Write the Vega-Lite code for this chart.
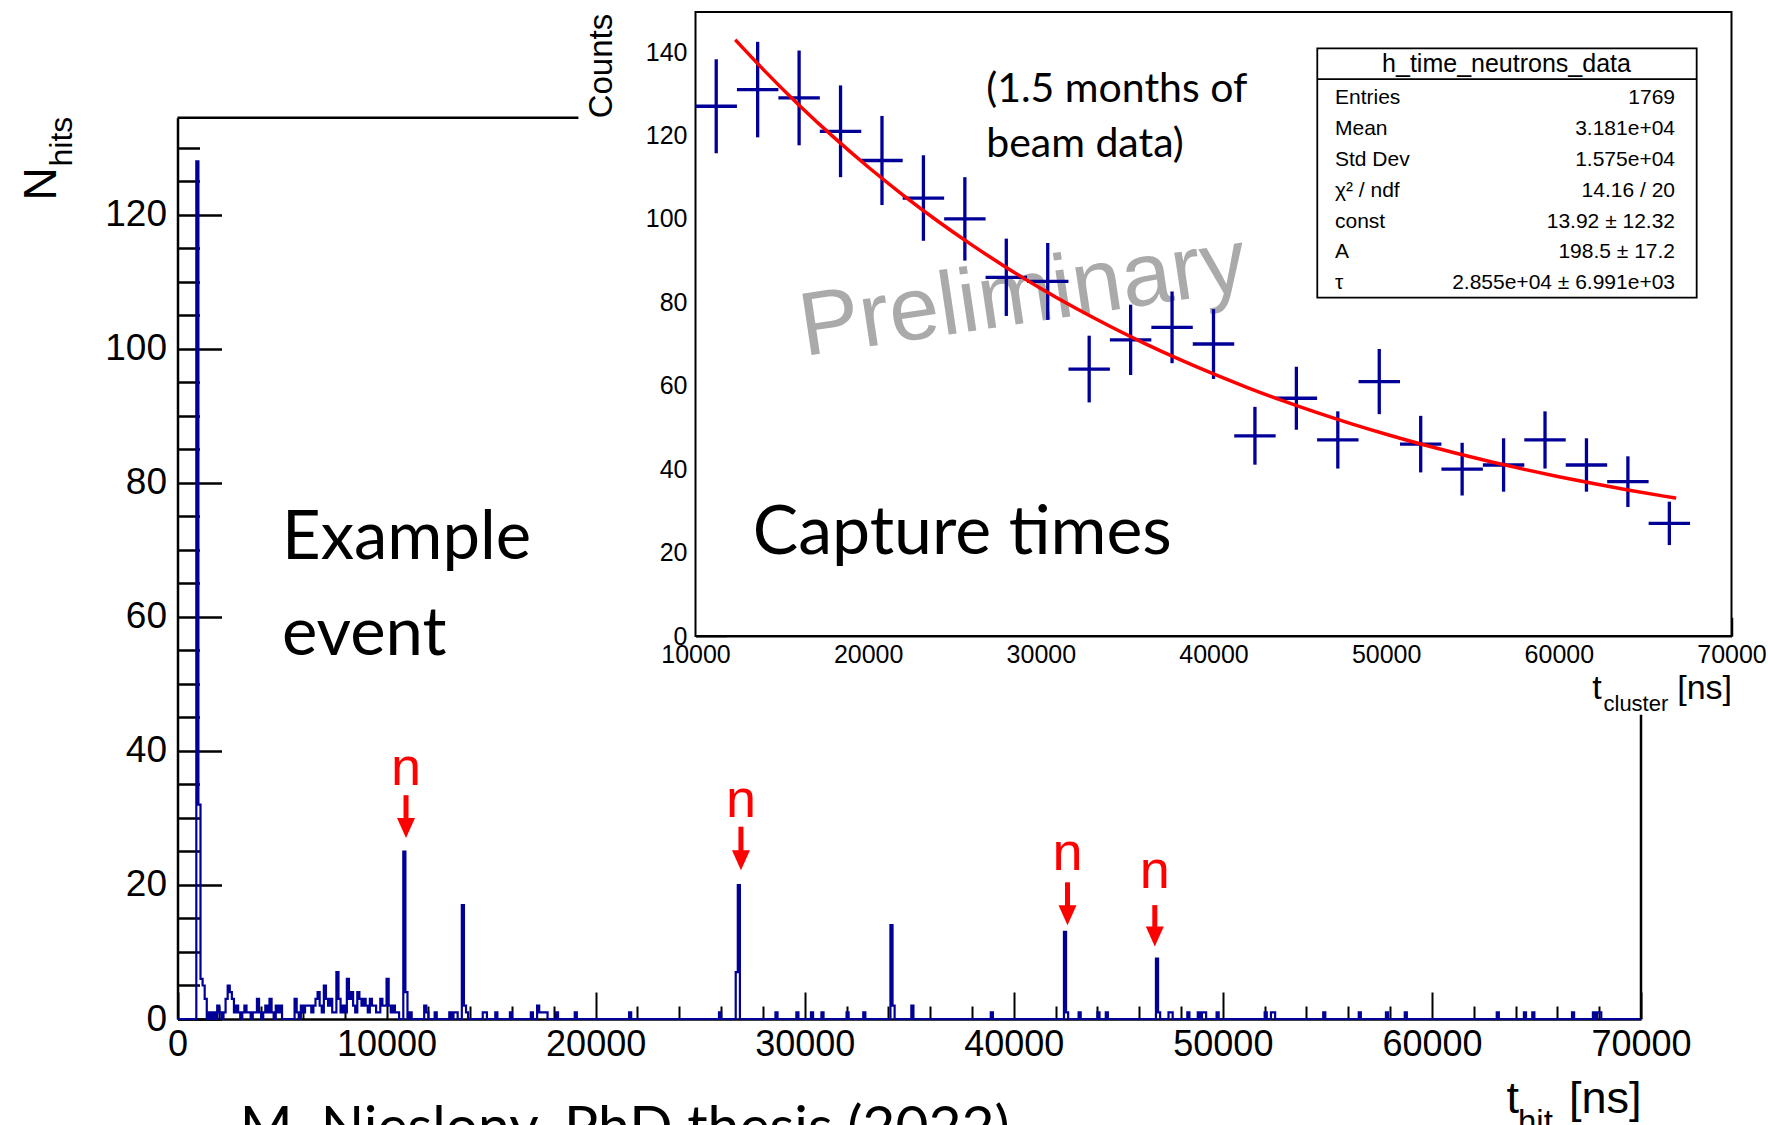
{
"$schema": "https://vega.github.io/schema/vega-lite/v6.json",
"width": 1768, "height": 1125, "autosize": "none", "padding": 0, "background": "white",
"config": {"view": {"stroke": null}, "font": "Liberation Sans",
 "axis": {"domainColor": "black", "tickColor": "black", "labelColor": "black", "titleColor": "black", "labelFont": "Liberation Sans", "titleFont": "Liberation Sans", "titleFontWeight": "normal", "grid": false, "labelFlush": false, "labelOverlap": false, "labelBound": false, "zindex": 1}},
"datasets": {
 "hist": [{"t":0,"n":0},{"t":900,"n":128},{"t":1000,"n":32},{"t":1100,"n":6},{"t":1200,"n":5},{"t":1300,"n":3},{"t":1400,"n":0},{"t":1500,"n":1},{"t":1600,"n":0},{"t":1700,"n":1},{"t":1800,"n":0},{"t":1900,"n":2},{"t":2000,"n":1},{"t":2100,"n":0},{"t":2200,"n":1},{"t":2300,"n":3},{"t":2400,"n":5},{"t":2500,"n":4},{"t":2600,"n":3},{"t":2700,"n":1},{"t":2800,"n":2},{"t":2900,"n":1},{"t":3000,"n":0},{"t":3100,"n":1},{"t":3200,"n":2},{"t":3300,"n":1},{"t":3500,"n":0},{"t":3600,"n":1},{"t":3800,"n":3},{"t":3900,"n":1},{"t":4000,"n":0},{"t":4100,"n":1},{"t":4200,"n":2},{"t":4300,"n":1},{"t":4400,"n":3},{"t":4500,"n":1},{"t":4600,"n":0},{"t":4700,"n":2},{"t":4800,"n":1},{"t":4900,"n":2},{"t":5000,"n":0},{"t":5600,"n":3},{"t":5700,"n":1},{"t":5800,"n":0},{"t":5900,"n":2},{"t":6000,"n":1},{"t":6100,"n":2},{"t":6400,"n":1},{"t":6500,"n":2},{"t":6600,"n":3},{"t":6700,"n":4},{"t":6800,"n":2},{"t":6900,"n":1},{"t":7000,"n":5},{"t":7100,"n":3},{"t":7200,"n":2},{"t":7300,"n":3},{"t":7400,"n":1},{"t":7600,"n":7},{"t":7700,"n":3},{"t":7800,"n":1},{"t":7900,"n":2},{"t":8000,"n":1},{"t":8100,"n":6},{"t":8200,"n":3},{"t":8300,"n":4},{"t":8400,"n":2},{"t":8500,"n":1},{"t":8600,"n":4},{"t":8700,"n":3},{"t":8800,"n":2},{"t":8900,"n":3},{"t":9000,"n":2},{"t":9100,"n":1},{"t":9200,"n":3},{"t":9300,"n":2},{"t":9500,"n":1},{"t":9700,"n":3},{"t":9800,"n":2},{"t":10000,"n":6},{"t":10100,"n":2},{"t":10200,"n":1},{"t":10300,"n":2},{"t":10400,"n":1},{"t":10600,"n":0},{"t":10800,"n":25},{"t":10900,"n":4},{"t":11000,"n":0},{"t":11100,"n":1},{"t":11200,"n":0},{"t":11800,"n":2},{"t":11900,"n":1},{"t":12000,"n":0},{"t":12300,"n":1},{"t":12400,"n":0},{"t":13000,"n":1},{"t":13100,"n":0},{"t":13200,"n":1},{"t":13400,"n":0},{"t":13600,"n":17},{"t":13700,"n":2},{"t":13800,"n":1},{"t":13900,"n":0},{"t":14600,"n":1},{"t":14800,"n":0},{"t":15200,"n":1},{"t":15300,"n":0},{"t":15900,"n":1},{"t":16000,"n":0},{"t":16900,"n":1},{"t":17000,"n":0},{"t":17200,"n":2},{"t":17300,"n":1},{"t":17700,"n":0},{"t":18100,"n":1},{"t":18200,"n":0},{"t":19000,"n":1},{"t":19100,"n":0},{"t":21600,"n":1},{"t":21700,"n":0},{"t":25900,"n":1},{"t":26000,"n":0},{"t":26700,"n":7},{"t":26800,"n":20},{"t":26900,"n":0},{"t":28600,"n":1},{"t":28700,"n":0},{"t":29600,"n":1},{"t":29700,"n":0},{"t":30300,"n":1},{"t":30400,"n":0},{"t":30800,"n":1},{"t":30900,"n":0},{"t":32000,"n":1},{"t":32100,"n":0},{"t":32800,"n":1},{"t":32900,"n":0},{"t":34100,"n":14},{"t":34200,"n":2},{"t":34300,"n":0},{"t":35100,"n":2},{"t":35200,"n":0},{"t":38900,"n":1},{"t":39000,"n":0},{"t":42400,"n":13},{"t":42500,"n":1},{"t":42600,"n":0},{"t":43100,"n":1},{"t":43200,"n":0},{"t":44000,"n":1},{"t":44100,"n":0},{"t":44400,"n":1},{"t":44500,"n":0},{"t":46800,"n":9},{"t":46900,"n":1},{"t":47000,"n":0},{"t":47400,"n":1},{"t":47600,"n":0},{"t":48300,"n":1},{"t":48400,"n":0},{"t":48800,"n":1},{"t":48900,"n":0},{"t":49000,"n":1},{"t":49200,"n":0},{"t":49700,"n":1},{"t":49800,"n":0},{"t":52000,"n":1},{"t":52100,"n":0},{"t":52300,"n":1},{"t":52500,"n":0},{"t":54800,"n":1},{"t":54900,"n":0},{"t":56500,"n":1},{"t":56600,"n":0},{"t":57800,"n":1},{"t":57900,"n":0},{"t":58700,"n":1},{"t":58800,"n":0},{"t":63100,"n":1},{"t":63200,"n":0},{"t":64400,"n":1},{"t":64500,"n":0},{"t":64800,"n":1},{"t":64900,"n":0},{"t":66700,"n":1},{"t":66800,"n":0},{"t":67700,"n":1},{"t":67800,"n":0},{"t":67900,"n":1},{"t":68100,"n":0},{"t":70000,"n":0}],
 "capture": [{"t":11200,"c":127,"lo":115.73,"hi":138.27,"tlo":10000,"thi":12400},{"t":13600,"c":131,"lo":119.55,"hi":142.45,"tlo":12400,"thi":14800},{"t":16000,"c":129,"lo":117.64,"hi":140.36,"tlo":14800,"thi":17200},{"t":18400,"c":121,"lo":110,"hi":132,"tlo":17200,"thi":19600},{"t":20800,"c":114,"lo":103.32,"hi":124.68,"tlo":19600,"thi":22000},{"t":23200,"c":105,"lo":94.75,"hi":115.25,"tlo":22000,"thi":24400},{"t":25600,"c":100,"lo":90,"hi":110,"tlo":24400,"thi":26800},{"t":28000,"c":86,"lo":76.73,"hi":95.27,"tlo":26800,"thi":29200},{"t":30400,"c":85,"lo":75.78,"hi":94.22,"tlo":29200,"thi":31600},{"t":32800,"c":64,"lo":56,"hi":72,"tlo":31600,"thi":34000},{"t":35200,"c":71,"lo":62.57,"hi":79.43,"tlo":34000,"thi":36400},{"t":37600,"c":74,"lo":65.4,"hi":82.6,"tlo":36400,"thi":38800},{"t":40000,"c":70,"lo":61.63,"hi":78.37,"tlo":38800,"thi":41200},{"t":42400,"c":48,"lo":41.07,"hi":54.93,"tlo":41200,"thi":43600},{"t":44800,"c":57,"lo":49.45,"hi":64.55,"tlo":43600,"thi":46000},{"t":47200,"c":47,"lo":40.14,"hi":53.86,"tlo":46000,"thi":48400},{"t":49600,"c":61,"lo":53.19,"hi":68.81,"tlo":48400,"thi":50800},{"t":52000,"c":46,"lo":39.22,"hi":52.78,"tlo":50800,"thi":53200},{"t":54400,"c":40,"lo":33.68,"hi":46.32,"tlo":53200,"thi":55600},{"t":56800,"c":41,"lo":34.6,"hi":47.4,"tlo":55600,"thi":58000},{"t":59200,"c":47,"lo":40.14,"hi":53.86,"tlo":58000,"thi":60400},{"t":61600,"c":41,"lo":34.6,"hi":47.4,"tlo":60400,"thi":62800},{"t":64000,"c":37,"lo":30.92,"hi":43.08,"tlo":62800,"thi":65200},{"t":66400,"c":27,"lo":21.8,"hi":32.2,"tlo":65200,"thi":67600}],
 "fit": [{"t":12300,"f":142.94},{"t":14000,"f":135.49},{"t":16000,"f":127.26},{"t":18000,"f":119.59},{"t":20000,"f":112.44},{"t":22000,"f":105.78},{"t":24000,"f":99.56},{"t":26000,"f":93.77},{"t":28000,"f":88.37},{"t":30000,"f":83.33},{"t":32000,"f":78.63},{"t":34000,"f":74.26},{"t":36000,"f":70.17},{"t":38000,"f":66.37},{"t":40000,"f":62.82},{"t":42000,"f":59.51},{"t":44000,"f":56.43},{"t":46000,"f":53.55},{"t":48000,"f":50.87},{"t":50000,"f":48.37},{"t":52000,"f":46.04},{"t":54000,"f":43.87},{"t":56000,"f":41.84},{"t":58000,"f":39.95},{"t":60000,"f":38.19},{"t":62000,"f":36.55},{"t":64000,"f":35.02},{"t":66000,"f":33.59},{"t":66800,"f":33.05}],
 "arrows": [{"t":10930,"vt":34.9,"vs":33.4,"vh":28.5},{"t":26950,"vt":30.1,"vs":28.7,"vh":23.7},{"t":42570,"vt":22.2,"vs":20.4,"vh":15.5},{"t":46745,"vt":19.6,"vs":17.0,"vh":12.3}],
 "stats": [{"row":0,"label":"Entries","value":"1769"},{"row":1,"label":"Mean","value":"3.181e+04"},{"row":2,"label":"Std Dev","value":"1.575e+04"},{"row":3,"label":"χ² / ndf","value":"14.16 / 20"},{"row":4,"label":"const","value":"13.92 ± 12.32"},{"row":5,"label":"A","value":"198.5 ± 17.2"},{"row":6,"label":"τ","value":"2.855e+04  ± 6.991e+03"}]
},
"layer": [
 {"data": {"name": "hist"},
  "mark": {"type": "line", "interpolate": "step-after", "color": "#000099", "strokeWidth": 2.2},
  "encoding": {
   "x": {"field": "t", "type": "quantitative", "scale": {"domain": [0, 70000], "range": [177.5, 1641], "nice": false, "zero": false},
     "axis": {"orient": "bottom", "offset": -106, "values": [0,10000,20000,30000,40000,50000,60000,70000], "format": "d", "tickSize": -27, "tickWidth": 2, "domainWidth": 2.5, "labelFontSize": 36, "labelPadding": 35, "labelBaseline": "top", "labelAlign": "center",
       "title": "t\u00a0\u00a0\u00a0\u00a0[ns]", "titleX": 1641, "titleY": 93, "titleAlign": "right", "titleBaseline": "alphabetic", "titleAngle": 0, "titleFontSize": 45}},
   "y": {"field": "n", "type": "quantitative", "scale": {"domain": [0, 134.5], "range": [1019, 117.8], "nice": false, "zero": false},
     "axis": {"orient": "left", "offset": -177.5, "values": [0,20,40,60,80,100,120], "tickSize": -44, "tickWidth": 2.5, "domainWidth": 2.5, "labelFontSize": 37, "labelPadding": 55, "labelAlign": "right", "labelBaseline": "middle",
       "title": "N", "titleAngle": 270, "titleX": -122, "titleY": 200, "titleAlign": "left", "titleBaseline": "alphabetic", "titleFontSize": 46}}
  }},
 {"data": {"values": [{"a":0,"a2":19176,"b":134.5,"b2":134.5},{"a":70000,"a2":70000,"b":0,"b2":45.4}]},
  "mark": {"type": "rule", "color": "black", "strokeWidth": 2.5},
  "encoding": {
   "x": {"field": "a", "type": "quantitative", "scale": {"domain": [0, 70000], "range": [177.5, 1641], "nice": false, "zero": false},
     "axis": {"orient": "bottom", "offset": -106, "values": [2000,4000,6000,8000,12000,14000,16000,18000,22000,24000,26000,28000,32000,34000,36000,38000,42000,44000,46000,48000,52000,54000,56000,58000,62000,64000,66000,68000], "tickSize": -13, "tickWidth": 2, "labels": false, "domain": false,
       "title": "hit", "titleX": 1517.5, "titleY": 113, "titleAlign": "left", "titleBaseline": "alphabetic", "titleAngle": 0, "titleFontSize": 33}},
   "x2": {"field": "a2"},
   "y": {"field": "b", "type": "quantitative", "scale": {"domain": [0, 134.5], "range": [1019, 117.8], "nice": false, "zero": false},
     "axis": {"orient": "left", "offset": -177.5, "values": [5,10,15,25,30,35,45,50,55,65,70,75,85,90,95,105,110,115,125,130], "tickSize": -22, "tickWidth": 2.5, "labels": false, "domain": false,
       "title": "hits", "titleAngle": 270, "titleX": -106.5, "titleY": 166, "titleAlign": "left", "titleBaseline": "alphabetic", "titleFontSize": 32}},
   "y2": {"field": "b2"}
  }},
 {"data": {"values": [{"t": 4997, "v": 68.6, "s": "Example\nevent"}]},
  "mark": {"type": "text", "font": "Lato", "fontSize": 67, "align": "left", "baseline": "alphabetic", "lineBreak": "\n", "lineHeight": 96, "color": "black"},
  "encoding": {
   "x": {"field": "t", "type": "quantitative", "scale": {"domain": [0, 70000], "range": [177.5, 1641], "nice": false, "zero": false}, "axis": null},
   "y": {"field": "v", "type": "quantitative", "scale": {"domain": [0, 134.5], "range": [1019, 117.8], "nice": false, "zero": false}, "axis": null},
   "text": {"field": "s"}}},
 {"data": {"values": [{"t": 2978, "v": -18.9, "s": "M. Nieslony, PhD thesis (2022)"}]},
  "mark": {"type": "text", "font": "Lato", "fontSize": 57, "align": "left", "baseline": "alphabetic", "color": "black"},
  "encoding": {
   "x": {"field": "t", "type": "quantitative", "scale": {"domain": [0, 70000], "range": [177.5, 1641], "nice": false, "zero": false}, "axis": null},
   "y": {"field": "v", "type": "quantitative", "scale": {"domain": [0, 134.5], "range": [1019, 117.8], "nice": false, "zero": false}, "axis": null},
   "text": {"field": "s"}}},
 {"data": {"name": "arrows"},
  "mark": {"type": "text", "fontSize": 54, "align": "center", "baseline": "alphabetic", "color": "#ff0000", "text": "n"},
  "encoding": {
   "x": {"field": "t", "type": "quantitative", "scale": {"domain": [0, 70000], "range": [177.5, 1641], "nice": false, "zero": false}, "axis": null},
   "y": {"field": "vt", "type": "quantitative", "scale": {"domain": [0, 134.5], "range": [1019, 117.8], "nice": false, "zero": false}, "axis": null}}},
 {"data": {"name": "arrows"},
  "mark": {"type": "rule", "color": "#ff0000", "strokeWidth": 5},
  "encoding": {
   "x": {"field": "t", "type": "quantitative", "scale": {"domain": [0, 70000], "range": [177.5, 1641], "nice": false, "zero": false}, "axis": null},
   "y": {"field": "vs", "type": "quantitative", "scale": {"domain": [0, 134.5], "range": [1019, 117.8], "nice": false, "zero": false}, "axis": null},
   "y2": {"field": "vh"}}},
 {"data": {"name": "arrows"},
  "mark": {"type": "point", "shape": "M-0.9,-1L0.9,-1L0,1Z", "size": 400, "filled": true, "color": "#ff0000", "opacity": 1, "strokeWidth": 0},
  "encoding": {
   "x": {"field": "t", "type": "quantitative", "scale": {"domain": [0, 70000], "range": [177.5, 1641], "nice": false, "zero": false}, "axis": null},
   "y": {"field": "vh", "type": "quantitative", "scale": {"domain": [0, 134.5], "range": [1019, 117.8], "nice": false, "zero": false}, "axis": null}}},
 {"data": {"values": [{"a":10000,"a2":70000,"b":0,"b2":149.6}]},
  "mark": {"type": "rect", "fill": "white", "stroke": "black", "strokeWidth": 2},
  "encoding": {
   "x": {"field": "a", "type": "quantitative", "scale": {"domain": [10000, 70000], "range": [695.5, 1731.5], "nice": false, "zero": false},
     "axis": {"orient": "bottom", "offset": -489, "values": [12000,14000,16000,18000,22000,24000,26000,28000,32000,34000,36000,38000,42000,44000,46000,48000,52000,54000,56000,58000,62000,64000,66000,68000], "tickSize": -9.3, "tickWidth": 1.5, "labels": false, "domain": false,
       "title": "cluster", "titleX": 1603, "titleY": 74, "titleAlign": "left", "titleBaseline": "alphabetic", "titleAngle": 0, "titleFontSize": 22}},
   "x2": {"field": "a2"},
   "y": {"field": "b", "type": "quantitative", "scale": {"domain": [0, 149.6], "range": [636, 12], "nice": false, "zero": false},
     "axis": {"orient": "left", "offset": -695.5, "values": [5,10,15,25,30,35,45,50,55,65,70,75,85,90,95,105,110,115,125,130,135,145], "tickSize": -15.6, "tickWidth": 1.5, "labels": false, "domain": false, "title": null}},
   "y2": {"field": "b2"}
  }},
 {"data": {"values": [{"t": 16300, "v": 67.1, "s": "Preliminary"}]},
  "mark": {"type": "text", "fontSize": 90, "align": "left", "baseline": "alphabetic", "angle": -8.5, "color": "#aaaaaa"},
  "encoding": {
   "x": {"field": "t", "type": "quantitative", "scale": {"domain": [10000, 70000], "range": [695.5, 1731.5], "nice": false, "zero": false}, "axis": null},
   "y": {"field": "v", "type": "quantitative", "scale": {"domain": [0, 149.6], "range": [636, 12], "nice": false, "zero": false}, "axis": null},
   "text": {"field": "s"}}},
 {"data": {"name": "capture"},
  "mark": {"type": "rule", "color": "#000099", "strokeWidth": 3.3},
  "encoding": {
   "x": {"field": "t", "type": "quantitative", "scale": {"domain": [10000, 70000], "range": [695.5, 1731.5], "nice": false, "zero": false},
     "axis": {"orient": "bottom", "offset": -489, "values": [10000,20000,30000,40000,50000,60000,70000], "format": "d", "tickSize": -18.7, "tickWidth": 1.5, "domainWidth": 2, "labelFontSize": 25, "labelPadding": 25.5, "labelBaseline": "top", "labelAlign": "center",
       "title": "t\u00a0\u00a0\u00a0\u00a0\u00a0\u00a0\u00a0\u00a0[ns]", "titleX": 1731.5, "titleY": 62, "titleAlign": "right", "titleBaseline": "alphabetic", "titleAngle": 0, "titleFontSize": 34}},
   "y": {"field": "lo", "type": "quantitative", "scale": {"domain": [0, 149.6], "range": [636, 12], "nice": false, "zero": false},
     "axis": {"orient": "left", "offset": -695.5, "values": [0,20,40,60,80,100,120,140], "tickSize": -31, "tickWidth": 1.5, "domainWidth": 2, "labelFontSize": 25, "labelPadding": 39.5, "labelAlign": "right", "labelBaseline": "middle",
       "title": "Counts", "titleAngle": 270, "titleX": -84.3, "titleY": 13.3, "titleAlign": "right", "titleBaseline": "alphabetic", "titleFontSize": 33}},
   "y2": {"field": "hi"}}},
 {"data": {"name": "capture"},
  "mark": {"type": "rule", "color": "#000099", "strokeWidth": 3.3},
  "encoding": {
   "x": {"field": "tlo", "type": "quantitative", "scale": {"domain": [10000, 70000], "range": [695.5, 1731.5], "nice": false, "zero": false}, "axis": null},
   "x2": {"field": "thi"},
   "y": {"field": "c", "type": "quantitative", "scale": {"domain": [0, 149.6], "range": [636, 12], "nice": false, "zero": false}, "axis": null}}},
 {"data": {"name": "fit"},
  "mark": {"type": "line", "interpolate": "monotone", "color": "#ff0000", "strokeWidth": 3.5},
  "encoding": {
   "x": {"field": "t", "type": "quantitative", "scale": {"domain": [10000, 70000], "range": [695.5, 1731.5], "nice": false, "zero": false}, "axis": null},
   "y": {"field": "f", "type": "quantitative", "scale": {"domain": [0, 149.6], "range": [636, 12], "nice": false, "zero": false}, "axis": null}}},
 {"data": {"values": [{"t": 26835, "v": 128.1, "s": "(1.5 months of\nbeam data)"}]},
  "mark": {"type": "text", "font": "Lato", "fontSize": 41, "align": "left", "baseline": "alphabetic", "lineBreak": "\n", "lineHeight": 55, "color": "black"},
  "encoding": {
   "x": {"field": "t", "type": "quantitative", "scale": {"domain": [10000, 70000], "range": [695.5, 1731.5], "nice": false, "zero": false}, "axis": null},
   "y": {"field": "v", "type": "quantitative", "scale": {"domain": [0, 149.6], "range": [636, 12], "nice": false, "zero": false}, "axis": null},
   "text": {"field": "s"}}},
 {"data": {"values": [{"t": 13318, "v": 19.66, "s": "Capture times"}]},
  "mark": {"type": "text", "font": "Lato", "fontSize": 68, "align": "left", "baseline": "alphabetic", "color": "black"},
  "encoding": {
   "x": {"field": "t", "type": "quantitative", "scale": {"domain": [10000, 70000], "range": [695.5, 1731.5], "nice": false, "zero": false}, "axis": null},
   "y": {"field": "v", "type": "quantitative", "scale": {"domain": [0, 149.6], "range": [636, 12], "nice": false, "zero": false}, "axis": null},
   "text": {"field": "s"}}},
 {"data": {"values": [{"a":46011,"a2":67983,"b":81.1,"b2":140.9}]},
  "mark": {"type": "rect", "fill": "white", "stroke": "black", "strokeWidth": 1.8},
  "encoding": {
   "x": {"field": "a", "type": "quantitative", "scale": {"domain": [10000, 70000], "range": [695.5, 1731.5], "nice": false, "zero": false}, "axis": null},
   "x2": {"field": "a2"},
   "y": {"field": "b", "type": "quantitative", "scale": {"domain": [0, 149.6], "range": [636, 12], "nice": false, "zero": false}, "axis": null},
   "y2": {"field": "b2"}}},
 {"data": {"values": [{"a":46011,"a2":67983,"b":133.5}]},
  "mark": {"type": "rule", "color": "black", "strokeWidth": 1.8},
  "encoding": {
   "x": {"field": "a", "type": "quantitative", "scale": {"domain": [10000, 70000], "range": [695.5, 1731.5], "nice": false, "zero": false}, "axis": null},
   "x2": {"field": "a2"},
   "y": {"field": "b", "type": "quantitative", "scale": {"domain": [0, 149.6], "range": [636, 12], "nice": false, "zero": false}, "axis": null}}},
 {"data": {"values": [{"t": 56969, "v": 135.3, "s": "h_time_neutrons_data"}]},
  "mark": {"type": "text", "fontSize": 25, "align": "center", "baseline": "alphabetic", "color": "black"},
  "encoding": {
   "x": {"field": "t", "type": "quantitative", "scale": {"domain": [10000, 70000], "range": [695.5, 1731.5], "nice": false, "zero": false}, "axis": null},
   "y": {"field": "v", "type": "quantitative", "scale": {"domain": [0, 149.6], "range": [636, 12], "nice": false, "zero": false}, "axis": null},
   "text": {"field": "s"}}},
 {"data": {"name": "stats"},
  "mark": {"type": "text", "fontSize": 21, "align": "left", "baseline": "alphabetic", "color": "black"},
  "encoding": {
   "x": {"datum": 47036, "type": "quantitative", "scale": {"domain": [10000, 70000], "range": [695.5, 1731.5], "nice": false, "zero": false}, "axis": null},
   "y": {"field": "row", "type": "quantitative", "scale": {"domain": [0, 6], "range": [104, 289.3], "nice": false, "zero": false}, "axis": null},
   "text": {"field": "label"}}},
 {"data": {"name": "stats"},
  "mark": {"type": "text", "fontSize": 21, "align": "right", "baseline": "alphabetic", "color": "black"},
  "encoding": {
   "x": {"datum": 66730, "type": "quantitative", "scale": {"domain": [10000, 70000], "range": [695.5, 1731.5], "nice": false, "zero": false}, "axis": null},
   "y": {"field": "row", "type": "quantitative", "scale": {"domain": [0, 6], "range": [104, 289.3], "nice": false, "zero": false}, "axis": null},
   "text": {"field": "value"}}}
],
"resolve": {"scale": {"x": "independent", "y": "independent"}}
}
